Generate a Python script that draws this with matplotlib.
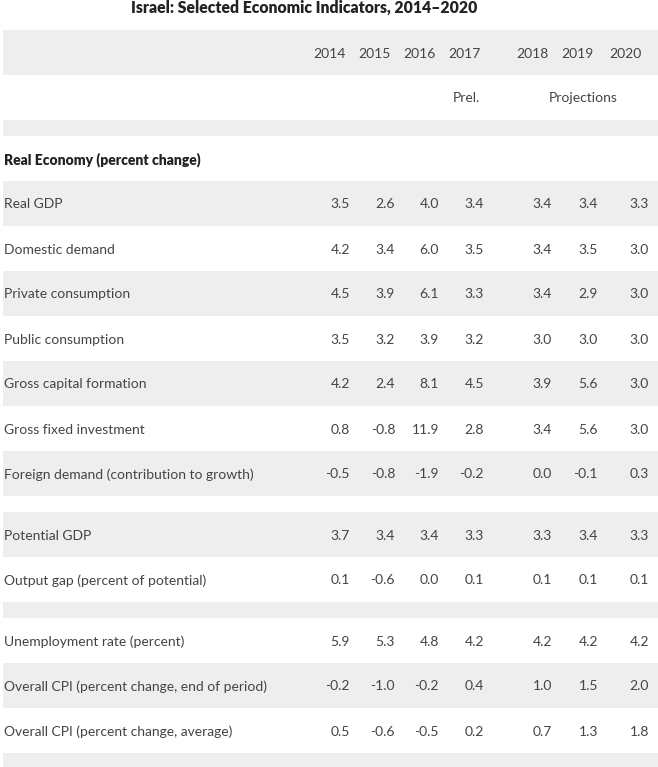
#!/usr/bin/env python3
"""Israel: Selected Economic Indicators, 2014-2020 (table rendered with matplotlib)."""
import matplotlib.pyplot as plt
from matplotlib.patches import Rectangle

TITLE = "Israel: Selected Economic Indicators, 2014\u20132020"
YEARS = ["2014", "2015", "2016", "2017", "2018", "2019", "2020"]
SECTION = "Real Economy (percent change)"

real_labels = [
    "Real GDP",
    "Domestic demand",
    "Private consumption",
    "Public consumption",
    "Gross capital formation",
    "Gross fixed investment",
    "Foreign demand (contribution to growth)",
]
real_values = [
    [3.5, 2.6, 4.0, 3.4, 3.4, 3.4, 3.3],
    [4.2, 3.4, 6.0, 3.5, 3.4, 3.5, 3.0],
    [4.5, 3.9, 6.1, 3.3, 3.4, 2.9, 3.0],
    [3.5, 3.2, 3.9, 3.2, 3.0, 3.0, 3.0],
    [4.2, 2.4, 8.1, 4.5, 3.9, 5.6, 3.0],
    [0.8, -0.8, 11.9, 2.8, 3.4, 5.6, 3.0],
    [-0.5, -0.8, -1.9, -0.2, 0.0, -0.1, 0.3],
]
potential_labels = ["Potential GDP", "Output gap (percent of potential)"]
potential_values = [
    [3.7, 3.4, 3.4, 3.3, 3.3, 3.4, 3.3],
    [0.1, -0.6, 0.0, 0.1, 0.1, 0.1, 0.1],
]
prices_labels = [
    "Unemployment rate (percent)",
    "Overall CPI (percent change, end of period)",
    "Overall CPI (percent change, average)",
]
prices_values = [
    [5.9, 5.3, 4.8, 4.2, 4.2, 4.2, 4.2],
    [-0.2, -1.0, -0.2, 0.4, 1.0, 1.5, 2.0],
    [0.5, -0.6, -0.5, 0.2, 0.7, 1.3, 1.8],
]

# layout in pixels
W, H = 658, 767
ROW_H = 45
GAP_H = 16
GRAY = "#eeeeee"
TXT = "#444444"
YEAR_X = [346, 391, 436, 481, 549, 594, 642]
VAL_X = [350, 395, 439, 484, 552, 598, 649]
LABEL_X = 4
FS = 10
DY = 1

plt.rcParams["font.family"] = ["Lato", "DejaVu Sans"]
fig = plt.figure(figsize=(W / 100, H / 100), dpi=100)
ax = fig.add_axes([0, 0, 1, 1])
ax.set_xlim(0, W)
ax.set_ylim(H, 0)
ax.axis("off")


def band(y0, h, gray):
    if gray:
        ax.add_patch(Rectangle((3, y0), W - 3, h, color=GRAY, lw=0))


def data_row(y0, label, vals, gray):
    band(y0, ROW_H, gray)
    yc = y0 + ROW_H / 2 + DY
    ax.text(LABEL_X, yc, label, ha="left", va="center", fontsize=FS, color=TXT)
    for x, v in zip(VAL_X, vals):
        ax.text(x, yc, f"{v:.1f}", ha="right", va="center", fontsize=FS, color=TXT)


ax.text(304, 8, TITLE, ha="center", va="center", fontsize=11.3,
        fontweight="heavy", color="#222222")

y = 30
band(y, ROW_H, True)
for x, yr in zip(YEAR_X, YEARS):
    ax.text(x, y + ROW_H / 2 + DY, yr, ha="right", va="center", fontsize=FS, color=TXT)
y += ROW_H
ax.text(466, y + ROW_H / 2 + DY, "Prel.", ha="center", va="center", fontsize=FS, color=TXT)
ax.text(583, y + ROW_H / 2 + DY, "Projections", ha="center", va="center", fontsize=FS, color=TXT)
y += ROW_H
band(y, GAP_H, True)
y += GAP_H
ax.text(LABEL_X, y + ROW_H / 2 + DY, SECTION, ha="left", va="center", fontsize=FS,
        fontweight="heavy", color="#222222")
y += ROW_H

gray = True
for lab, vals in zip(real_labels, real_values):
    data_row(y, lab, vals, gray)
    y += ROW_H
    gray = not gray
y += GAP_H
gray = True
for lab, vals in zip(potential_labels, potential_values):
    data_row(y, lab, vals, gray)
    y += ROW_H
    gray = not gray
band(y, GAP_H, True)
y += GAP_H
gray = False
for lab, vals in zip(prices_labels, prices_values):
    data_row(y, lab, vals, gray)
    y += ROW_H
    gray = not gray
band(y, H - y, True)

fig.savefig("out.png", dpi=100)
